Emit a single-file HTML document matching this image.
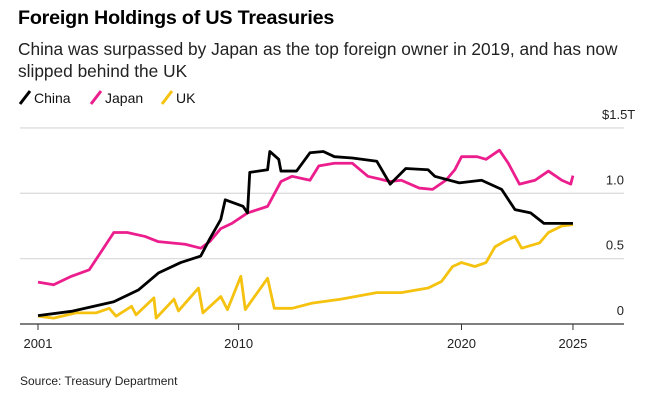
<!DOCTYPE html>
<html><head><meta charset="utf-8"><style>
body{margin:0;width:656px;height:401px;background:#fff;font-family:"Liberation Sans",sans-serif;overflow:hidden;position:relative}
.t{position:absolute;left:18px;top:7px;font-size:19.7px;font-weight:bold;color:#000;letter-spacing:-0.2px}
.s{position:absolute;left:18px;top:38px;font-size:17.3px;line-height:22px;color:#222;width:610px}
.src{position:absolute;left:20px;top:374px;font-size:12px;color:#222}
svg{position:absolute;left:0;top:0}
</style></head><body>
<div class="t">Foreign Holdings of US Treasuries</div>
<div class="s">China was surpassed by Japan as the top foreign owner in 2019, and has now slipped behind the UK</div>
<div class="src">Source: Treasury Department</div>
<svg id="c" width="656" height="401"></svg>
<script>
const yTicks=[0,0.5,1.0,1.5];
const yLabels=["0","0.5","1.0","$1.5T"];
const xTicks=[2001,2010,2020,2025];
const chinaX=[2001,2002.5,2004.4,2005.5,2006.4,2007.4,2008.3,2008.7,2009.2,2009.4,2010.2,2010.4,2010.5,2011.3,2011.4,2011.8,2011.9,2012.6,2013.2,2013.8,2014.3,2015.1,2016.2,2016.8,2017.5,2018.5,2018.8,2019.9,2020.9,2021.8,2022.4,2023.1,2023.7,2024.5,2025];
const chinaY=[0.064,0.097,0.17,0.26,0.39,0.47,0.52,0.65,0.80,0.95,0.90,0.85,1.16,1.18,1.32,1.26,1.17,1.17,1.31,1.32,1.28,1.27,1.245,1.07,1.19,1.18,1.13,1.08,1.10,1.03,0.875,0.85,0.77,0.77,0.77];
const japanX=[2001,2001.7,2002.5,2003.3,2003.9,2004.4,2005,2005.8,2006.4,2007.6,2008.3,2008.7,2009.2,2009.7,2010.4,2011.3,2011.9,2012.4,2013.2,2013.6,2014.3,2015.1,2015.8,2016.8,2017.3,2018.1,2018.7,2019.3,2019.7,2020,2020.7,2021.1,2021.7,2022.1,2022.6,2023.3,2023.9,2024.5,2024.9,2025];
const japanY=[0.32,0.30,0.365,0.415,0.57,0.70,0.70,0.67,0.63,0.61,0.58,0.63,0.73,0.77,0.85,0.90,1.09,1.13,1.10,1.21,1.23,1.23,1.13,1.09,1.10,1.04,1.03,1.10,1.18,1.28,1.28,1.26,1.33,1.23,1.07,1.10,1.17,1.10,1.07,1.135];
const ukX=[2001,2001.7,2002.7,2003.6,2004.2,2004.5,2005.2,2005.4,2006.2,2006.3,2007.1,2007.3,2008.2,2008.4,2009.2,2009.5,2010.1,2010.3,2011.3,2011.6,2012.4,2013.3,2014.6,2016.2,2017.3,2018.5,2019.1,2019.6,2020,2020.6,2021.1,2021.5,2021.9,2022.4,2022.7,2023.5,2023.9,2024.5,2025];
const ukY=[0.06,0.045,0.085,0.085,0.12,0.06,0.135,0.07,0.20,0.045,0.19,0.10,0.275,0.085,0.21,0.11,0.365,0.11,0.35,0.12,0.12,0.16,0.19,0.24,0.24,0.275,0.325,0.44,0.47,0.44,0.47,0.59,0.63,0.67,0.58,0.62,0.70,0.75,0.76];
const NS="http://www.w3.org/2000/svg",svg=document.getElementById('c');
const X=v=>38+(v-2001)*22.29, Y=v=>324-v*130.7;
function mk(t,a){const e=document.createElementNS(NS,t);for(const k in a)e.setAttribute(k,a[k]);svg.appendChild(e);return e;}
yTicks.forEach((v,i)=>{
 if(v>0){const g=mk('line',{x1:20,x2:624,y1:Y(v),y2:Y(v),stroke:'#ddd','stroke-width':1.3});
 
 }
 const t=mk('text',{x:624,y:Y(v)-9,'text-anchor':i==3?'start':'end','font-size':13,fill:'#222','font-family':'Liberation Sans'});
 if(i==3)t.setAttribute('x',602);
 t.textContent=yLabels[i];
 
 
});
const ax=mk('line',{x1:20,x2:624,y1:324,y2:324,stroke:'#333','stroke-width':1.2});


xTicks.forEach(v=>{
 const l=mk('line',{x1:X(v),x2:X(v),y1:324,y2:330,stroke:'#333','stroke-width':1});
 
 
 const t=mk('text',{x:X(v),y:348,'text-anchor':'middle','font-size':13,fill:'#222','font-family':'Liberation Sans'});
 t.textContent=v;
 
 
});
function line(xs,ys,col,name){
 const p=mk('polyline',{points:xs.map((x,i)=>X(x)+','+Y(ys[i])).join(' '),fill:'none',stroke:col,'stroke-width':2.8,'stroke-linejoin':'round'});
 
 
}
line(ukX,ukY,'#f5c20f','uk-line');
line(japanX,japanY,'#ec1d8c','japan-line');
line(chinaX,chinaY,'#000','china-line');
[['China','#000',20],['Japan','#ec1d8c',91],['UK','#f5c20f',162]].forEach(([n,c,x])=>{
 const l=mk('line',{x1:x,y1:104,x2:x+10,y2:91,stroke:c,'stroke-width':3});
 
 
 const t=mk('text',{x:x+14,y:103,'font-size':14,fill:'#111','font-family':'Liberation Sans'});
 t.textContent=n;
 
 
});
</script>
</body></html>
